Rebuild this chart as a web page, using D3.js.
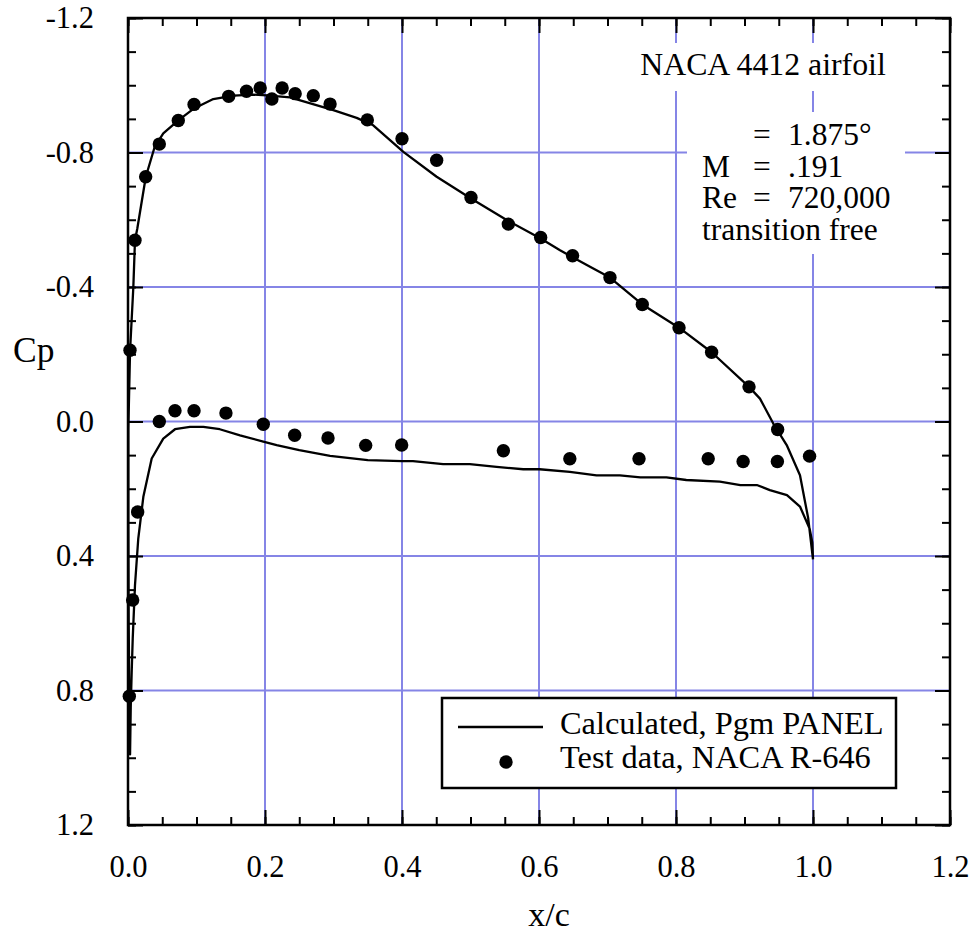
<!DOCTYPE html>
<html>
<head>
<meta charset="utf-8">
<script src="https://cdn.jsdelivr.net/npm/d3@7"></script>
<style>
  html, body { margin: 0; padding: 0; background: #fff; }
  svg { display: block; }
</style>
</head>
<body>
<div id="chart"></div>
<script>
// NACA 4412 pressure distribution, Cp vs x/c

// calculated (Pgm PANEL): one closed loop, TE -> lower surface -> LE -> upper surface -> TE
const calcX = [1.0, 0.999, 0.995, 0.981, 0.962, 0.937, 0.918, 0.894, 0.864, 0.815, 0.786, 0.748, 0.718,
  0.684, 0.645, 0.601, 0.577, 0.538, 0.499, 0.460, 0.416, 0.40, 0.35, 0.295, 0.25, 0.217, 0.1975, 0.1635,
  0.134, 0.110, 0.0905, 0.0686, 0.0515, 0.0346, 0.0224, 0.015, 0.0102, 0.0069, 0.0054, 0.004, 0.003,
  0.002, 0.001, 0.0005, 0.0005, 0.003, 0.0078, 0.0102, 0.0136, 0.026, 0.039, 0.0515, 0.073, 0.0964,
  0.1245, 0.154, 0.183, 0.2025, 0.2365, 0.2997, 0.3338, 0.358, 0.3825, 0.402, 0.4506, 0.5007, 0.5528,
  0.6024, 0.6307, 0.6745, 0.7036, 0.7508, 0.8044, 0.852, 0.9066, 0.9226, 0.942, 0.9616, 0.981, 0.993, 1.0];
const calcCp = [0.41, 0.36, 0.318, 0.253, 0.219, 0.204, 0.189, 0.189, 0.179, 0.174, 0.166, 0.166, 0.160,
  0.160, 0.150, 0.142, 0.142, 0.135, 0.127, 0.127, 0.118, 0.118, 0.115, 0.102, 0.085, 0.070, 0.060, 0.041,
  0.023, 0.016, 0.016, 0.023, 0.051, 0.110, 0.224, 0.348, 0.487, 0.645, 0.744, 0.85, 0.99,
  0.85, 0.6, 0.3, 0.02, -0.21, -0.40, -0.539, -0.574, -0.728, -0.817, -0.857, -0.895, -0.931,
  -0.959, -0.969, -0.972, -0.970, -0.964, -0.926, -0.903, -0.881, -0.837, -0.802, -0.728, -0.663, -0.599,
  -0.544, -0.509, -0.46, -0.428, -0.348, -0.279, -0.206, -0.103, -0.068, 0.006, 0.070, 0.160, 0.288, 0.41];

// test data, NACA R-646
const upperX = [0.0029, 0.0102, 0.0258, 0.0457, 0.0734, 0.0964, 0.147, 0.173, 0.193, 0.210, 0.225, 0.244,
  0.2705, 0.295, 0.3494, 0.40, 0.4506, 0.5007, 0.5552, 0.6024, 0.649, 0.7036, 0.7508, 0.8044, 0.852,
  0.9066, 0.9484];
const upperCp = [-0.212, -0.539, -0.728, -0.825, -0.895, -0.943, -0.967, -0.982, -0.992, -0.959, -0.992, -0.975,
  -0.969, -0.944, -0.897, -0.841, -0.777, -0.666, -0.587, -0.547, -0.493, -0.428, -0.348, -0.279, -0.206,
  -0.103, 0.024];
const lowerX = [0.0019, 0.0068, 0.0141, 0.0457, 0.0686, 0.0964, 0.143, 0.1975, 0.2433, 0.292, 0.347, 0.3995,
  0.548, 0.645, 0.746, 0.847, 0.898, 0.948, 0.995];
const lowerCp = [0.817, 0.531, 0.269, 0.0, -0.032, -0.032, -0.025, 0.008, 0.041, 0.049, 0.071, 0.070,
  0.087, 0.111, 0.111, 0.111, 0.119, 0.119, 0.103];

const xMajor = [0, 0.2, 0.4, 0.6, 0.8, 1.0, 1.2];
const xMinor = d3.range(0, 1.2001, 0.05);
const yMajor = [-1.2, -0.8, -0.4, 0, 0.4, 0.8, 1.2];
const yMinor = d3.range(-1.2, 1.2001, 0.1);
const xTickLabels = ["0.0", "0.2", "0.4", "0.6", "0.8", "1.0", "1.2"];
const yTickLabels = ["-1.2", "-0.8", "-0.4", "0.0", "0.4", "0.8", "1.2"];

const noteLines = [["", "=", "1.875°"], ["M", "=", ".191"], ["Re", "=", "720,000"], ["transition free", "", ""]];

const W = 976, H = 936;
const mLeft = 128, mRight = 950, mTop = 18, mBottom = 825;
const FONT = "'Liberation Serif', 'Times New Roman', serif";
const GRID = "#8585e6";

const x = d3.scaleLinear().domain([0, 1.2]).range([mLeft, mRight]);
const y = d3.scaleLinear().domain([-1.2, 1.2]).range([mTop, mBottom]);

const svg = d3.select("#chart").append("svg")
  .attr("width", W).attr("height", H)
  .attr("viewBox", [0, 0, W, H])
  .style("font-family", FONT);

// grid
const grid = svg.append("g");
grid.selectAll("line.gx").data(xMajor.slice(1, -1)).join("line")
  .attr("x1", d => x(d)).attr("x2", d => x(d))
  .attr("y1", mTop).attr("y2", mBottom)
  .attr("stroke", GRID).attr("stroke-width", 2);
grid.selectAll("line.gy").data(yMajor.slice(1, -1)).join("line")
  .attr("x1", mLeft).attr("x2", mRight)
  .attr("y1", d => y(d)).attr("y2", d => y(d))
  .attr("stroke", GRID).attr("stroke-width", 2);

// white areas behind the notes
svg.append("rect").attr("x", 630).attr("y", 43).attr("width", 265).attr("height", 48).attr("fill", "#fff");
svg.append("rect").attr("x", 687).attr("y", 112).attr("width", 218).attr("height", 142).attr("fill", "#fff");

svg.append("text")
  .attr("x", 763).attr("y", 75)
  .attr("text-anchor", "middle")
  .attr("font-size", 31.8)
  .text("NACA 4412 airfoil");

const cols = [702, 753, 788];
noteLines.forEach((row, i) => {
  row.forEach((t, j) => {
    if (!t) return;
    svg.append("text")
      .attr("x", cols[j]).attr("y", 145 + i * 31.7)
      .attr("font-size", 31.5)
      .text(t);
  });
});

// calculated curve
const calc = calcX.map((v, i) => [v, calcCp[i]]);
svg.append("path")
  .datum(calc)
  .attr("fill", "none")
  .attr("stroke", "#000")
  .attr("stroke-width", 2.3)
  .attr("stroke-linejoin", "round")
  .attr("d", d3.line().x(d => x(d[0])).y(d => y(d[1])));

// test points
const pts = upperX.map((v, i) => [v, upperCp[i]])
  .concat(lowerX.map((v, i) => [v, lowerCp[i]]));
svg.append("g").selectAll("circle").data(pts).join("circle")
  .attr("cx", d => x(d[0])).attr("cy", d => y(d[1]))
  .attr("r", 6.7).attr("fill", "#000");

// axes: ticks inside on all four sides
function styleAxis(g) {
  g.select(".domain").remove();
  g.selectAll("line").attr("stroke", "#000").attr("stroke-width", 2);
  g.attr("font-family", FONT).attr("font-size", 30.5);
  g.selectAll("text").attr("fill", "#000");
}

svg.append("g").attr("transform", `translate(0,${mBottom})`)
  .call(d3.axisBottom(x).tickValues(xMinor).tickSize(-8).tickFormat(""))
  .call(styleAxis);
svg.append("g").attr("transform", `translate(0,${mBottom})`)
  .call(d3.axisBottom(x).tickValues(xMajor).tickSize(-15).tickPadding(30)
    .tickFormat((d, i) => xTickLabels[i]))
  .call(styleAxis);
svg.append("g").attr("transform", `translate(0,${mTop})`)
  .call(d3.axisTop(x).tickValues(xMinor).tickSize(-8).tickFormat(""))
  .call(styleAxis);
svg.append("g").attr("transform", `translate(0,${mTop})`)
  .call(d3.axisTop(x).tickValues(xMajor).tickSize(-15).tickFormat(""))
  .call(styleAxis);

svg.append("g").attr("transform", `translate(${mLeft},0)`)
  .call(d3.axisLeft(y).tickValues(yMinor).tickSize(-8).tickFormat(""))
  .call(styleAxis);
svg.append("g").attr("transform", `translate(${mLeft},0)`)
  .call(d3.axisLeft(y).tickValues(yMajor).tickSize(-15).tickPadding(34)
    .tickFormat((d, i) => yTickLabels[i]))
  .call(styleAxis);
svg.append("g").attr("transform", `translate(${mRight},0)`)
  .call(d3.axisRight(y).tickValues(yMinor).tickSize(-8).tickFormat(""))
  .call(styleAxis);
svg.append("g").attr("transform", `translate(${mRight},0)`)
  .call(d3.axisRight(y).tickValues(yMajor).tickSize(-15).tickFormat(""))
  .call(styleAxis);

// frame
svg.append("rect")
  .attr("x", mLeft).attr("y", mTop)
  .attr("width", mRight - mLeft).attr("height", mBottom - mTop)
  .attr("fill", "none").attr("stroke", "#000").attr("stroke-width", 2.5);

// axis titles
svg.append("text").attr("x", 13).attr("y", 362).attr("font-size", 35.5).text("Cp");
svg.append("text").attr("x", 549).attr("y", 926).attr("text-anchor", "middle")
  .attr("font-size", 34).text("x/c");

// legend
const lg = svg.append("g");
lg.append("rect").attr("x", 442).attr("y", 698).attr("width", 454).attr("height", 90)
  .attr("fill", "#fff").attr("stroke", "#000").attr("stroke-width", 2.5);
lg.append("line").attr("x1", 458).attr("x2", 543).attr("y1", 727).attr("y2", 727)
  .attr("stroke", "#000").attr("stroke-width", 2.3);
lg.append("circle").attr("cx", 506).attr("cy", 762).attr("r", 6.7).attr("fill", "#000");
lg.append("text").attr("x", 560).attr("y", 734).attr("font-size", 32.4).text("Calculated, Pgm PANEL");
lg.append("text").attr("x", 560).attr("y", 768).attr("font-size", 32.4).text("Test data, NACA R-646");
</script>
</body>
</html>
